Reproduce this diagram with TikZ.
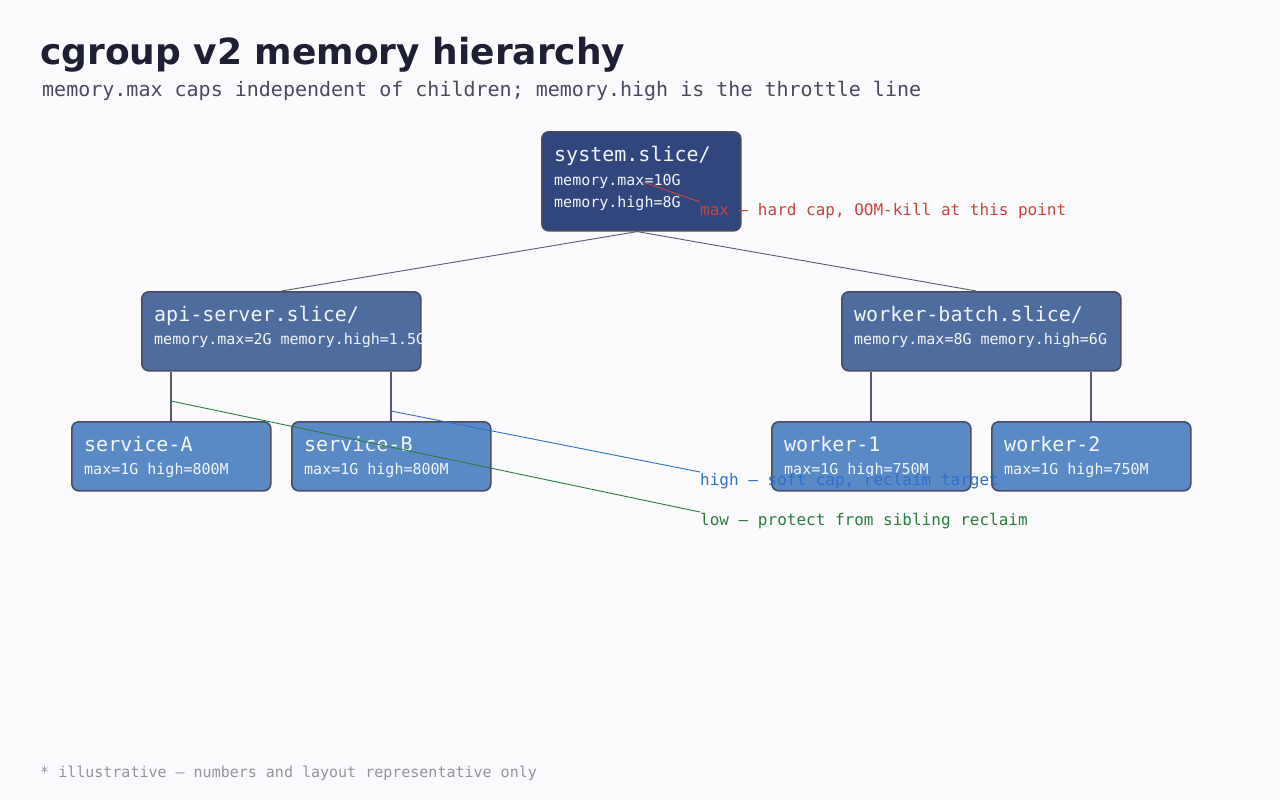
\documentclass[tikz,border=0pt]{standalone}
\usepackage{fontspec}
\setmainfont{DejaVu Sans}
\setmonofont{DejaVu Sans Mono}
\usepackage{xcolor}
\usetikzlibrary{calc}

\definecolor{bgpaper}{HTML}{FBFBFD}
\definecolor{ink}{HTML}{1F1F33}
\definecolor{subink}{HTML}{4A4A5E}
\definecolor{footink}{HTML}{9494A3}
\definecolor{rootfill}{HTML}{32467E}
\definecolor{midfill}{HTML}{4E6C9E}
\definecolor{leaffill}{HTML}{5A8AC6}
\definecolor{edgeink}{HTML}{4B4B62}
\definecolor{wireink}{HTML}{5B5A75}
\definecolor{boxtext}{HTML}{F2F5FA}
\definecolor{maxred}{HTML}{C9443A}
\definecolor{highblue}{HTML}{2F6FCB}
\definecolor{lowgreen}{HTML}{2C7C3F}

\newcommand{\fsz}[1]{\fontsize{#1}{#1}\selectfont}

\begin{document}
\begin{tikzpicture}[x=1pt,y=-1pt,
  cbox/.style={draw=edgeink,line width=1.6pt,rounded corners=7pt,inner sep=0pt,anchor=north west},
  rootbox/.style={cbox,fill=rootfill,minimum width=199pt,minimum height=99pt},
  slicebox/.style={cbox,fill=midfill,minimum width=279pt,minimum height=79pt},
  leafbox/.style={cbox,fill=leaffill,minimum width=199pt,minimum height=69pt},
  boxname/.style={anchor=base west,inner sep=0pt,text=boxtext,font=\ttfamily\fsz{20}},
  boxlim/.style={anchor=base west,inner sep=0pt,text=boxtext,font=\ttfamily\fsz{15}},
  tree/.style={wireink,line width=0.9pt},
  drop/.style={wireink,line width=2pt},
  note/.style={anchor=north west,inner sep=0pt,text height=13pt,text depth=4pt,font=\ttfamily\fsz{16}},
  lead/.style={line width=0.9pt}]
  \fill[bgpaper] (0,0) rectangle (1280,800);
  \useasboundingbox (0,0) rectangle (1280,800);

  % heading
  \node[anchor=base west,inner sep=0pt,text=ink,font=\bfseries\fsz{36}] (title) at (40,65) {cgroup v2 memory hierarchy};
  \node[anchor=base west,inner sep=0pt,text=subink,font=\ttfamily\fsz{20}] (subtitle) at (42,96)
    {memory.max caps independent of children; memory.high is the throttle line};

  % boxes
  \node[rootbox] (sys) at (541,131) {};
  \node[boxname] (sysname) at (554,161) {system.slice/};
  \node[boxlim] (sysmax) at (554,185) {memory.max=10G};
  \node[boxlim] (syshigh) at (554,207) {memory.high=8G};

  \node[slicebox] (api) at (141,291) {};
  \node[boxname] (apiname) at (154,321) {api-server.slice/};
  \node[boxlim] (apilim) at (154,344) {memory.max=2G memory.high=1.5G};

  \node[slicebox] (wb) at (841,291) {};
  \node[boxname] (wbname) at (854,321) {worker-batch.slice/};
  \node[boxlim] (wblim) at (854,344) {memory.max=8G memory.high=6G};

  \node[leafbox] (svcA) at (71,421) {};
  \node[boxname] (svcAname) at (84,451) {service-A};
  \node[boxlim] (svcAlim) at (84,474) {max=1G high=800M};

  \node[leafbox] (svcB) at (291,421) {};
  \node[boxname] (svcBname) at (304,451) {service-B};
  \node[boxlim] (svcBlim) at (304,474) {max=1G high=800M};

  \node[leafbox] (wk1) at (771,421) {};
  \node[boxname] (wk1name) at (784,451) {worker-1};
  \node[boxlim] (wk1lim) at (784,474) {max=1G high=750M};

  \node[leafbox] (wk2) at (991,421) {};
  \node[boxname] (wk2name) at (1004,451) {worker-2};
  \node[boxlim] (wk2lim) at (1004,474) {max=1G high=750M};

  % tree edges
  \draw[tree] ([xshift=-4pt]sys.south) -- (api.north);
  \draw[tree] ([xshift=-4pt]sys.south) -- ([xshift=-5pt]wb.north);
  \draw[drop] (svcA.north |- api.south) -- (svcA.north);
  \draw[drop] (svcB.north |- api.south) -- (svcB.north);
  \draw[drop] (wk1.north |- wb.south) -- (wk1.north);
  \draw[drop] (wk2.north |- wb.south) -- (wk2.north);

  % annotations
  \coordinate (maxpt) at (643,182);
  \coordinate (highpt) at (391,411);
  \coordinate (lowpt) at (171,401);
  \node[note,text=maxred] (maxnote) at (700,202) {max — hard cap, OOM-kill at this point};
  \node[note,text=highblue] (highnote) at (700,472) {high — soft cap, reclaim target};
  \node[note,text=lowgreen] (lownote) at (700,512) {low — protect from sibling reclaim};
  \draw[lead,maxred] (maxpt) -- (maxnote.north west);
  \draw[lead,highblue] (highpt) -- (highnote.north west);
  \draw[lead,lowgreen] (lowpt) -- (lownote.north west);

  \node[anchor=base west,inner sep=0pt,text=footink,font=\ttfamily\fsz{15}] (footer) at (40,777)
    {* illustrative — numbers and layout representative only};
\end{tikzpicture}
\end{document}
